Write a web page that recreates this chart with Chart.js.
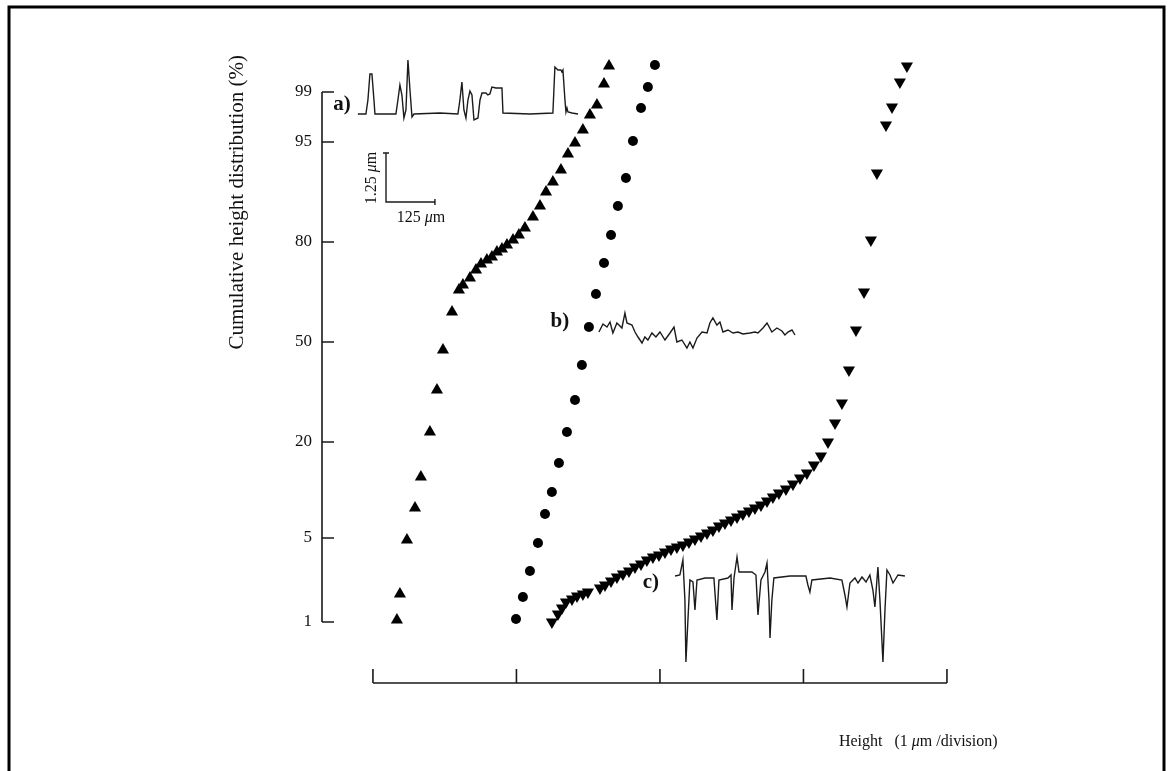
<!DOCTYPE html>
<html>
<head>
<meta charset="utf-8">
<script src="https://cdn.jsdelivr.net/npm/chart.js@4.4.1/dist/chart.umd.min.js"></script>
<style>
  html, body { margin: 0; padding: 0; background: #fff; }
</style>
</head>
<body>
<canvas id="chart" width="1173" height="771"></canvas>
<script>
// probability axis: label and its position (1 unit = one label step)
const yTickLabels = ['1', '5', '20', '50', '80', '95', '99'];
const yTickPos = [0, 0.84, 1.80, 2.80, 3.80, 4.80, 5.30];
const xDivisions = [0, 1, 2, 3, 4];

// a) upward triangles
const aX = [0.167, 0.188, 0.237, 0.293, 0.334, 0.397, 0.446, 0.488, 0.551, 0.599, 0.627, 0.676, 0.718, 0.753, 0.794, 0.829, 0.864, 0.899, 0.934, 0.976, 1.017, 1.059, 1.115, 1.164, 1.206, 1.254, 1.310, 1.359, 1.408, 1.463, 1.512, 1.561, 1.610, 1.645];
const aY = [0.02, 0.28, 0.82, 1.14, 1.45, 1.90, 2.32, 2.72, 3.10, 3.32, 3.37, 3.44, 3.52, 3.58, 3.62, 3.65, 3.70, 3.73, 3.77, 3.82, 3.87, 3.94, 4.05, 4.16, 4.30, 4.40, 4.52, 4.68, 4.79, 4.92, 5.07, 5.17, 5.38, 5.56];

// b) circles
const bX = [0.997, 1.045, 1.094, 1.150, 1.199, 1.247, 1.296, 1.352, 1.408, 1.456, 1.505, 1.554, 1.610, 1.659, 1.707, 1.763, 1.812, 1.868, 1.916, 1.965];
const bY = [0.03, 0.25, 0.51, 0.79, 1.08, 1.30, 1.59, 1.90, 2.22, 2.57, 2.95, 3.28, 3.59, 3.87, 4.16, 4.44, 4.81, 5.14, 5.35, 5.57];

// c) downward triangles
const cX = [1.247, 1.289, 1.317, 1.345, 1.387, 1.422, 1.463, 1.498, 1.582, 1.617, 1.659, 1.700, 1.742, 1.784, 1.826, 1.868, 1.909, 1.951, 1.993, 2.035, 2.077, 2.118, 2.160, 2.202, 2.244, 2.286, 2.328, 2.369, 2.411, 2.453, 2.495, 2.537, 2.578, 2.620, 2.662, 2.704, 2.746, 2.787, 2.829, 2.878, 2.927, 2.976, 3.024, 3.073, 3.122, 3.171, 3.220, 3.268, 3.317, 3.366, 3.422, 3.470, 3.512, 3.575, 3.617, 3.672, 3.721];
const cY = [0.00, 0.08, 0.14, 0.20, 0.23, 0.26, 0.28, 0.30, 0.34, 0.37, 0.41, 0.45, 0.48, 0.51, 0.55, 0.58, 0.62, 0.65, 0.67, 0.70, 0.73, 0.75, 0.77, 0.80, 0.83, 0.86, 0.89, 0.92, 0.96, 0.99, 1.02, 1.05, 1.08, 1.11, 1.14, 1.17, 1.21, 1.25, 1.29, 1.33, 1.38, 1.44, 1.49, 1.57, 1.66, 1.80, 1.99, 2.19, 2.52, 2.92, 3.30, 3.82, 4.49, 4.97, 5.15, 5.40, 5.56];

// surface profiles shown as insets
const profAX = [-0.105, -0.049, -0.035, -0.021, -0.007, 0.007, 0.014, 0.160, 0.174, 0.188, 0.202, 0.216, 0.230, 0.244, 0.258, 0.272, 0.286, 0.467, 0.592, 0.606, 0.620, 0.634, 0.648, 0.662, 0.676, 0.690, 0.704, 0.732, 0.746, 0.760, 0.787, 0.801, 0.815, 0.829, 0.857, 0.899, 0.906, 1.094, 1.254, 1.261, 1.268, 1.289, 1.310, 1.317, 1.324, 1.338, 1.345, 1.352, 1.359, 1.387, 1.429];
const profAY = [5.08, 5.08, 5.22, 5.48, 5.48, 5.22, 5.08, 5.08, 5.22, 5.37, 5.27, 5.04, 5.12, 5.62, 5.32, 5.05, 5.08, 5.09, 5.08, 5.22, 5.40, 5.12, 5.04, 5.22, 5.31, 5.27, 5.02, 5.04, 5.22, 5.29, 5.29, 5.27, 5.28, 5.35, 5.34, 5.34, 5.09, 5.08, 5.09, 5.32, 5.55, 5.52, 5.52, 5.50, 5.52, 5.22, 5.10, 5.14, 5.10, 5.09, 5.08];

const profBX = [1.575, 1.603, 1.631, 1.652, 1.672, 1.700, 1.735, 1.756, 1.770, 1.805, 1.826, 1.847, 1.875, 1.895, 1.916, 1.944, 1.972, 2.000, 2.035, 2.070, 2.098, 2.118, 2.153, 2.188, 2.209, 2.230, 2.258, 2.293, 2.328, 2.348, 2.369, 2.397, 2.418, 2.439, 2.474, 2.509, 2.544, 2.578, 2.627, 2.662, 2.683, 2.718, 2.746, 2.780, 2.815, 2.850, 2.871, 2.892, 2.920, 2.941];
const profBY = [2.90, 2.98, 2.95, 3.00, 2.89, 2.99, 2.94, 3.09, 2.99, 2.97, 2.90, 2.85, 2.79, 2.85, 2.82, 2.89, 2.85, 2.90, 2.82, 2.89, 2.95, 2.80, 2.82, 2.74, 2.80, 2.74, 2.84, 2.90, 2.89, 2.99, 3.04, 2.97, 3.00, 2.90, 2.92, 2.89, 2.90, 2.88, 2.89, 2.90, 2.89, 2.94, 2.99, 2.90, 2.94, 2.91, 2.87, 2.90, 2.92, 2.87];

const profCX = [2.105, 2.139, 2.160, 2.174, 2.181, 2.195, 2.209, 2.230, 2.244, 2.258, 2.314, 2.376, 2.397, 2.411, 2.474, 2.495, 2.502, 2.516, 2.537, 2.551, 2.641, 2.669, 2.683, 2.704, 2.732, 2.746, 2.760, 2.767, 2.780, 2.794, 2.906, 3.017, 3.031, 3.045, 3.059, 3.185, 3.268, 3.289, 3.303, 3.324, 3.359, 3.380, 3.408, 3.436, 3.463, 3.484, 3.498, 3.512, 3.519, 3.533, 3.554, 3.568, 3.582, 3.603, 3.624, 3.659, 3.707];
const profCY = [0.46, 0.47, 0.62, 0.22, -0.40, 0.02, 0.42, 0.40, 0.12, 0.42, 0.44, 0.44, 0.02, 0.42, 0.44, 0.47, 0.12, 0.44, 0.65, 0.50, 0.50, 0.47, 0.07, 0.42, 0.50, 0.59, 0.22, -0.16, 0.22, 0.44, 0.46, 0.46, 0.37, 0.30, 0.42, 0.44, 0.42, 0.27, 0.15, 0.39, 0.44, 0.39, 0.45, 0.40, 0.47, 0.32, 0.15, 0.42, 0.55, 0.22, -0.40, 0.12, 0.52, 0.47, 0.39, 0.47, 0.46];

// scale bar of the profiles (1.25 um vertical, 125 um horizontal)
const barX = [0.070, 0.112, 0.091, 0.091, 0.432, 0.432, 0.432];
const barY = [4.69, 4.69, 4.69, 4.20, 4.20, 4.23, 4.17];

const pts = (xs, ys) => xs.map((x, i) => ({ x: x, y: ys[i] }));
const serif = '"Liberation Serif", "DejaVu Serif", serif';
const ink = '#111';

const markerSet = (data, style, r, rot) => ({
    data: data,
    showLine: false,
    pointStyle: style,
    pointRadius: r,
    pointRotation: rot,
    pointBackgroundColor: '#000',
    pointBorderColor: '#000',
    pointBorderWidth: 0
});

const traceSet = (data) => ({
    data: data,
    showLine: true,
    pointRadius: 0,
    borderColor: '#1b1b1b',
    borderWidth: 1.4,
    tension: 0
});

// draws "<pre>" + italic "μ" + "<post>" centred on (0,0)
const muText = (ctx, pre, post, size) => {
    const up = size + 'px ' + serif;
    const it = 'italic ' + size + 'px ' + serif;
    ctx.font = up; const w1 = ctx.measureText(pre).width; const w3 = ctx.measureText(post).width;
    ctx.font = it; const w2 = ctx.measureText('μ').width;
    let px = -(w1 + w2 + w3) / 2;
    ctx.textAlign = 'left';
    ctx.font = up; ctx.fillText(pre, px, 0); px += w1;
    ctx.font = it; ctx.fillText('μ', px, 0); px += w2;
    ctx.font = up; ctx.fillText(post, px, 0);
};

const decor = {
    id: 'decor',
    afterDraw(chart) {
        const ctx = chart.ctx;
        const x = chart.scales.x;
        const y = chart.scales.y;
        const area = chart.chartArea;
        ctx.save();

        // outer frame
        ctx.strokeStyle = '#000';
        ctx.lineWidth = 3;
        ctx.strokeRect(9, 7, 1155, 780);

        // y axis with inward ticks
        ctx.strokeStyle = '#1a1a1a';
        ctx.lineWidth = 1.6;
        ctx.beginPath();
        ctx.moveTo(area.left, y.getPixelForValue(yTickPos[0]));
        ctx.lineTo(area.left, y.getPixelForValue(yTickPos[yTickPos.length - 1]));
        yTickPos.forEach(v => {
            const py = y.getPixelForValue(v);
            ctx.moveTo(area.left, py);
            ctx.lineTo(area.left + 12, py);
        });
        ctx.stroke();

        // x axis with upward ticks
        ctx.beginPath();
        ctx.moveTo(x.getPixelForValue(xDivisions[0]), area.bottom);
        ctx.lineTo(x.getPixelForValue(xDivisions[xDivisions.length - 1]), area.bottom);
        xDivisions.forEach(v => {
            const px = x.getPixelForValue(v);
            ctx.moveTo(px, area.bottom);
            ctx.lineTo(px, area.bottom - 14);
        });
        ctx.stroke();

        // panel letters
        ctx.fillStyle = ink;
        ctx.textAlign = 'center';
        ctx.textBaseline = 'middle';
        ctx.font = 'bold 21px ' + serif;
        [['a)', -0.216, 5.17], ['b)', 1.303, 3.00], ['c)', 1.937, 0.39]].forEach(l => {
            ctx.fillText(l[0], x.getPixelForValue(l[1]), y.getPixelForValue(l[2]));
        });

        // scale bar labels
        ctx.save();
        ctx.translate(x.getPixelForValue(0.334), y.getPixelForValue(4.04));
        muText(ctx, '125 ', 'm', 16);
        ctx.restore();
        ctx.save();
        ctx.translate(x.getPixelForValue(-0.007), y.getPixelForValue(4.44));
        ctx.rotate(-Math.PI / 2);
        muText(ctx, '1.25 ', 'm', 16);
        ctx.restore();

        // x axis title
        ctx.save();
        ctx.translate(x.getPixelForValue(3.80), 742);
        muText(ctx, 'Height   (1 ', 'm /division)', 16);
        ctx.restore();

        ctx.restore();
    }
};

new Chart(document.getElementById('chart'), {
    type: 'scatter',
    data: {
        datasets: [
            markerSet(pts(aX, aY), 'triangle', 7, 0),
            markerSet(pts(bX, bY), 'circle', 5, 0),
            markerSet(pts(cX, cY), 'triangle', 7, 180),
            traceSet(pts(profAX, profAY)),
            traceSet(pts(profBX, profBY)),
            traceSet(pts(profCX, profCY)),
            traceSet(pts(barX, barY))
        ]
    },
    options: {
        responsive: false,
        animation: false,
        layout: { padding: { left: 222, top: 55, right: 183, bottom: 0 } },
        plugins: {
            legend: { display: false },
            tooltip: { enabled: false }
        },
        scales: {
            x: {
                type: 'linear',
                min: -0.355,
                max: 4.30,
                afterFit(s) { s.height = 88; },
                grid: { display: false, drawTicks: false },
                border: { display: false },
                ticks: { display: false },
                title: { display: false }
            },
            y: {
                type: 'linear',
                min: -0.61,
                max: 5.67,
                afterBuildTicks(s) { s.ticks = yTickPos.map(v => ({ value: v })); },
                afterFit(s) { s.width = 100; },
                grid: { display: false, drawTicks: false },
                border: { display: false },
                ticks: {
                    autoSkip: false,
                    padding: 10,
                    color: ink,
                    font: { family: serif, size: 17 },
                    callback: (v, i) => yTickLabels[i]
                },
                title: {
                    display: true,
                    text: 'Cumulative height distribution (%)',
                    align: 'end',
                    color: ink,
                    font: { family: serif, size: 21 },
                    padding: { top: 3, bottom: 0 }
                }
            }
        }
    },
    plugins: [decor]
});
</script>
</body>
</html>
